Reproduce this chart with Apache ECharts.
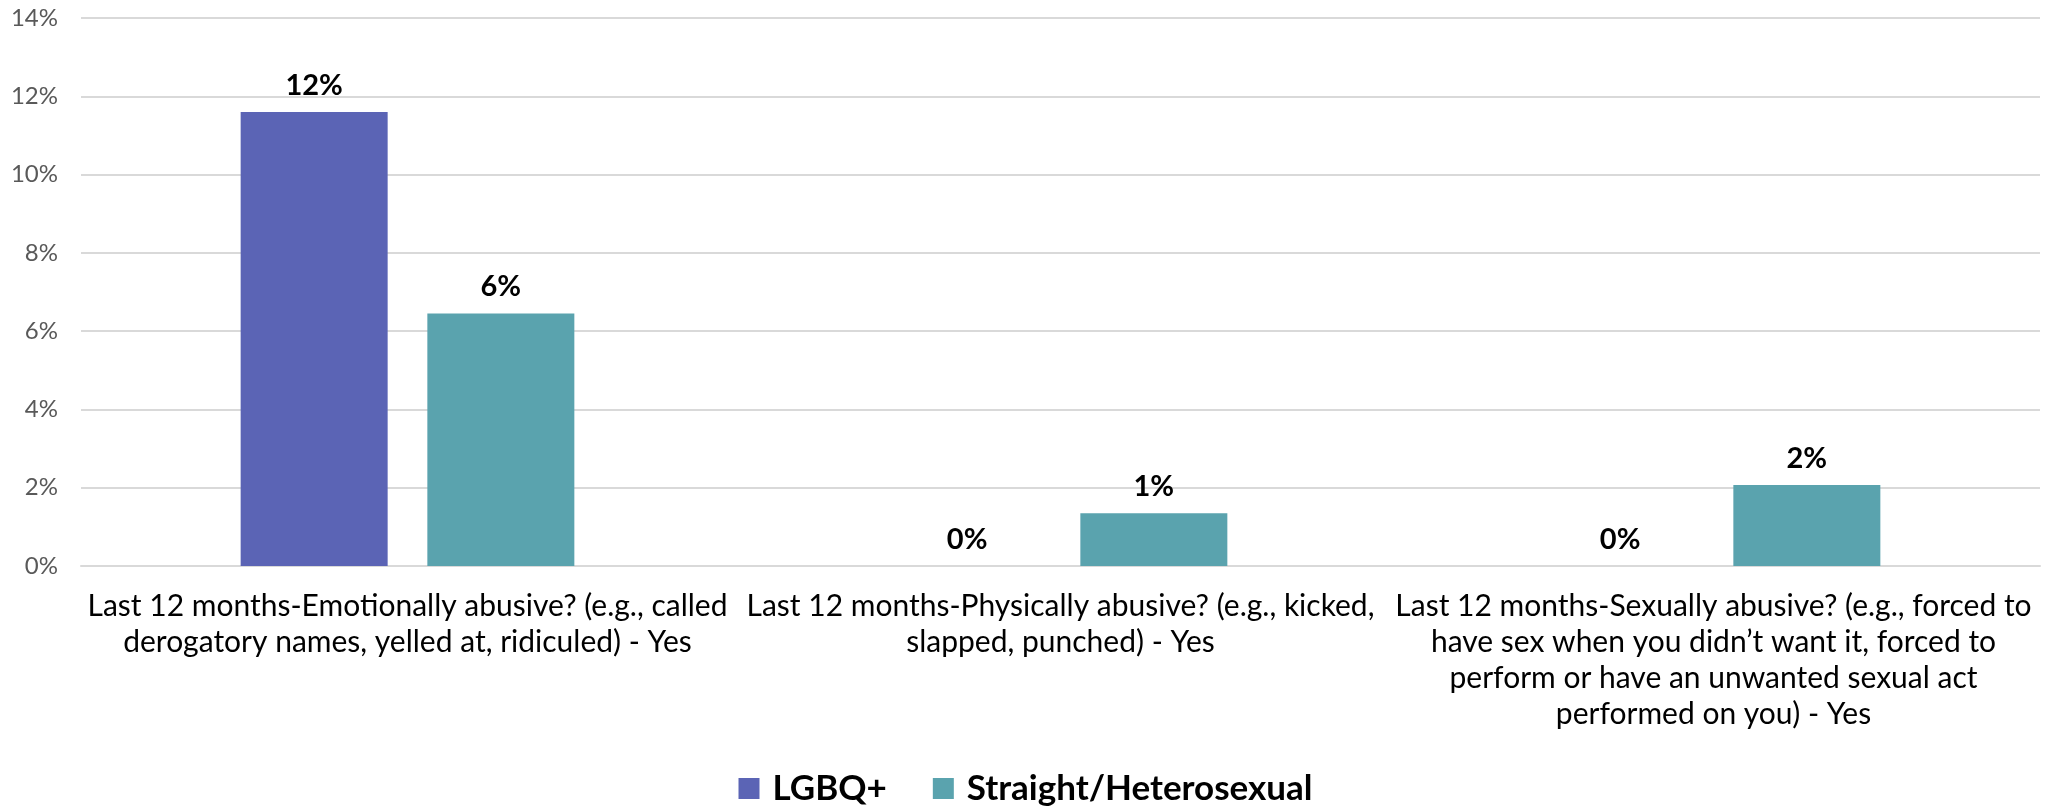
<!DOCTYPE html>
<html>
<head>
<meta charset="utf-8">
<script src="https://cdn.jsdelivr.net/npm/echarts@6/dist/echarts.min.js"></script>
<style>
    html, body { margin: 0; padding: 0; background: #fff; }
    #chart { width: 2051px; height: 811px; }
</style>
</head>
<body>
<div id="chart"></div>
<script>
// 类目（已按原图换行）
var categories = [
    'Last 12 months-Emotionally abusive? (e.g., called\nderogatory names, yelled at, ridiculed) - Yes',
    'Last 12 months-Physically abusive? (e.g., kicked,\nslapped, punched) - Yes',
    'Last 12 months-Sexually abusive? (e.g., forced to\nhave sex when you didn\u2019t want it, forced to\nperform or have an unwanted sexual act\nperformed on you) - Yes'
];
var seriesNames = ['LGBQ+', 'Straight/Heterosexual'];
var lgbqValues = [11.6, 0, 0];
var straightValues = [6.45, 1.35, 2.07];
var yTicks = [0, 2, 4, 6, 8, 10, 12, 14];

(function (window) {
    var FONT = 'Lato';

    function barSeries(name, data, color) {
        return {
            name: name,
            type: 'bar',
            data: data,
            barWidth: 147,
            barGap: '27%',
            itemStyle: { color: color },
            label: {
                show: true,
                position: 'top',
                distance: 12,
                fontFamily: FONT,
                fontWeight: 'bold',
                fontSize: 29,
                color: '#000',
                formatter: function (p) { return Math.round(p.value) + '%'; }
            }
        };
    }

    var chart = echarts.init(document.getElementById('chart'));
    chart.setOption({
        animation: false,
        textStyle: { fontFamily: FONT },
        grid: { left: 81, right: 11, top: 18, bottom: 245 },
        legend: {
            data: seriesNames,
            bottom: 0,
            left: 'center',
            itemWidth: 21,
            itemHeight: 21,
            itemGap: 46,
            icon: 'rect',
            textStyle: {
                fontFamily: FONT,
                fontWeight: 'bold',
                fontSize: 35,
                color: '#000',
                padding: [0, 0, 0, 8]
            }
        },
        xAxis: {
            type: 'category',
            data: categories,
            axisTick: { show: false },
            axisLine: { lineStyle: { color: '#d9d9d9', width: 2 } },
            axisLabel: {
                interval: 0,
                margin: 22,
                fontFamily: FONT,
                fontSize: 30,
                lineHeight: 36,
                color: '#000'
            }
        },
        yAxis: {
            type: 'value',
            min: yTicks[0],
            max: yTicks[yTicks.length - 1],
            interval: 2,
            axisLabel: {
                margin: 23,
                fontFamily: FONT,
                fontSize: 24,
                color: '#595959',
                formatter: '{value}%'
            },
            splitLine: { lineStyle: { color: '#d9d9d9', width: 2 } }
        },
        series: [
            barSeries(seriesNames[0], lgbqValues, '#5b64b5'),
            barSeries(seriesNames[1], straightValues, '#5aa3ae')
        ]
    });
})(window);
</script>
</body>
</html>
